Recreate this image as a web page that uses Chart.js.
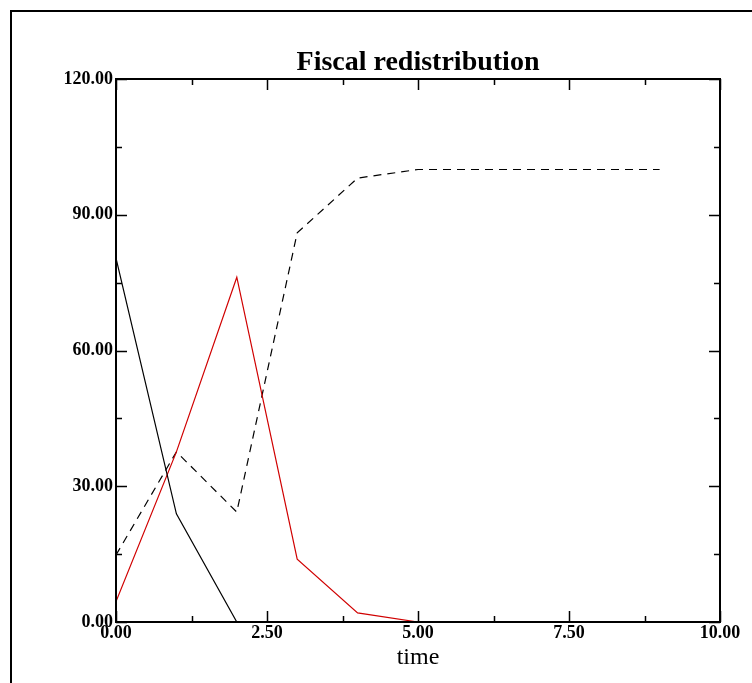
<!DOCTYPE html>
<html>
<head>
<meta charset="utf-8">
<script src="https://cdn.jsdelivr.net/npm/chart.js@4.4.0/dist/chart.umd.min.js"></script>
<style>
  html, body { margin: 0; padding: 0; background: #fff; }
  #wrap { width: 752px; height: 683px; }
</style>
</head>
<body>
<div id="wrap"><canvas id="chart" width="752" height="683"></canvas></div>
<script>
const time = [0, 1, 2, 3, 4, 5, 6, 7, 8, 9];
const seriesSolid = [80.4, 23.9, 0, 0, 0, 0, 0, 0, 0, 0];
const seriesRed = [4.5, 37.6, 76.2, 13.9, 2.0, 0, 0, 0, 0, 0];
const seriesDashed = [14.8, 37.6, 24.3, 86.0, 98.1, 100, 100, 100, 100, 100];

const yTicks = [0, 30, 60, 90, 120];
const xTicks = [0, 2.5, 5, 7.5, 10];

const SERIF = "'Liberation Serif', 'DejaVu Serif', serif";

function pts(ys) {
  return time.map((t, i) => ({ x: t, y: ys[i] }));
}

// frame, title, inward ticks on all four sides
const framePlugin = {
  id: "frame",
  afterDraw(chart) {
    const ctx = chart.ctx;
    const a = chart.chartArea;
    const xs = chart.scales.x, ys = chart.scales.y;
    ctx.save();
    ctx.strokeStyle = "#000";
    // outer page frame (runs off the right and bottom)
    ctx.lineWidth = 2;
    ctx.beginPath();
    ctx.moveTo(11, 700);
    ctx.lineTo(11, 11);
    ctx.lineTo(760, 11);
    ctx.stroke();

    // plot box
    ctx.lineWidth = 2;
    ctx.strokeRect(a.left, a.top, a.right - a.left, a.bottom - a.top);

    // ticks
    ctx.lineWidth = 1.5;
    ctx.beginPath();
    for (let v = 0; v <= 10.001; v += 1.25) {
      const px = Math.round(xs.getPixelForValue(v)) + 0.5;
      const len = Math.abs(v / 2.5 - Math.round(v / 2.5)) < 1e-6 ? 11 : 6;
      ctx.moveTo(px, a.bottom); ctx.lineTo(px, a.bottom - len);
      ctx.moveTo(px, a.top); ctx.lineTo(px, a.top + len);
    }
    for (let v = 0; v <= 120.001; v += 15) {
      const py = Math.round(ys.getPixelForValue(v)) + 0.5;
      const len = v % 30 === 0 ? 11 : 6;
      ctx.moveTo(a.left, py); ctx.lineTo(a.left + len, py);
      ctx.moveTo(a.right, py); ctx.lineTo(a.right - len, py);
    }
    ctx.stroke();

    // title
    ctx.fillStyle = "#000";
    ctx.font = "bold 28px " + SERIF;
    ctx.textAlign = "center";
    ctx.textBaseline = "alphabetic";
    ctx.fillText("Fiscal redistribution", (a.left + a.right) / 2, 70);
    ctx.restore();
  }
};

new Chart(document.getElementById("chart"), {
  type: "line",
  data: {
    datasets: [
      {
        label: "solid",
        data: pts(seriesSolid),
        borderColor: "#000000",
        borderWidth: 1.2,
        pointRadius: 0,
        tension: 0
      },
      {
        label: "red",
        data: pts(seriesRed),
        borderColor: "#d00000",
        borderWidth: 1.2,
        pointRadius: 0,
        tension: 0
      },
      {
        label: "dashed",
        data: pts(seriesDashed),
        borderColor: "#000000",
        borderWidth: 1.2,
        borderDash: [8, 6],
        pointRadius: 0,
        tension: 0
      }
    ]
  },
  options: {
    responsive: false,
    animation: false,
    layout: { padding: { left: 0, right: 32, top: 79, bottom: 0 } },
    plugins: {
      legend: { display: false },
      title: { display: false },
      tooltip: { enabled: false }
    },
    scales: {
      x: {
        type: "linear",
        min: 0,
        max: 10,
        afterBuildTicks(scale) { scale.ticks = xTicks.map(v => ({ value: v })); },
        afterFit(scale) { scale.height = 61; },
        grid: { display: false, drawTicks: false },
        border: { display: false },
        ticks: {
          color: "#000",
          padding: 1,
          maxRotation: 0,
          font: { family: SERIF, size: 18, weight: "bold" },
          callback: v => v.toFixed(2)
        },
        title: {
          display: true,
          text: "time",
          color: "#000",
          padding: { top: 0, bottom: 11 },
          font: { family: SERIF, size: 24 }
        }
      },
      y: {
        type: "linear",
        min: 0,
        max: 120,
        afterBuildTicks(scale) { scale.ticks = yTicks.map(v => ({ value: v })); },
        afterFit(scale) { scale.width = 116; },
        grid: { display: false, drawTicks: false },
        border: { display: false },
        ticks: {
          color: "#000",
          padding: 3,
          font: { family: SERIF, size: 18, weight: "bold" },
          callback: v => v.toFixed(2)
        }
      }
    }
  },
  plugins: [framePlugin]
});
</script>
</body>
</html>
